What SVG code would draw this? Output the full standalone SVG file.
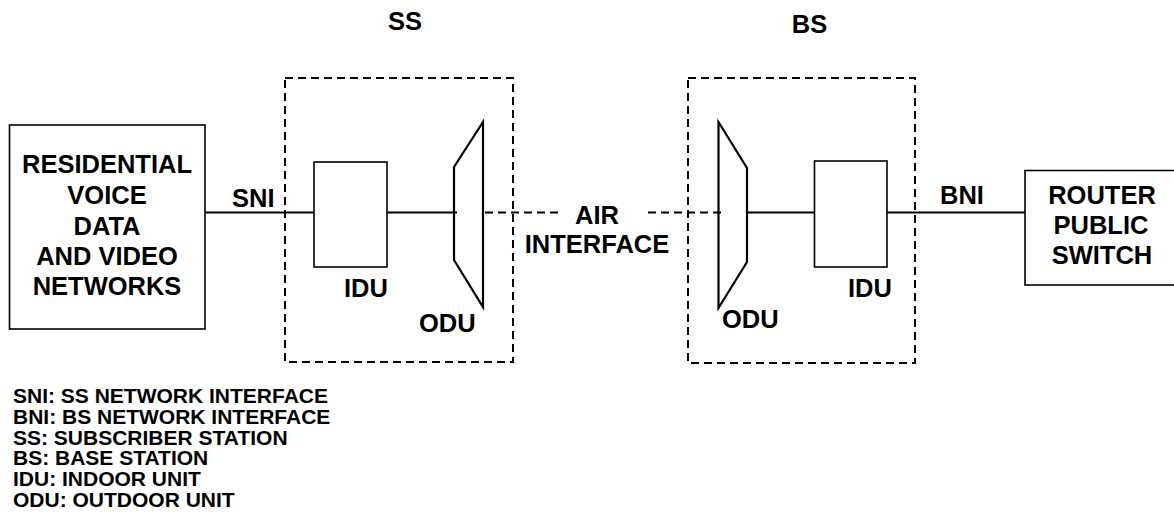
<svg xmlns="http://www.w3.org/2000/svg" width="1174" height="527" viewBox="0 0 1174 527">
<style>
text{font-family:"Liberation Sans",Arial,sans-serif;font-weight:bold;fill:#000}
.t{font-size:25.5px}
.m{text-anchor:middle}
.lg{font-size:21px}
.box{fill:#fff;stroke:#000;stroke-width:1.6}
.grp{fill:none;stroke:#000;stroke-width:2;stroke-dasharray:8 5}
.odu{fill:none;stroke:#000;stroke-width:2.2;stroke-linejoin:miter}
.ln{fill:none;stroke:#000;stroke-width:1.8}
.air{fill:none;stroke:#000;stroke-width:1.8;stroke-dasharray:8 5}
</style>
<rect width="1174" height="527" fill="#fff"/>

<g id="ss-group">
<rect class="grp" x="285" y="78" width="228" height="284"/>
<text class="t m" x="405" y="30">SS</text>
</g>
<g id="bs-group">
<rect class="grp" x="688" y="78" width="227" height="285"/>
<text class="t m" x="809.5" y="33">BS</text>
</g>

<g id="connectors">
<line class="ln" x1="205" y1="212.5" x2="314" y2="212.5"/>
<line class="ln" x1="387" y1="212.5" x2="457" y2="212.5"/>
<line class="air" x1="485" y1="212.5" x2="558" y2="212.5"/>
<line class="air" x1="648" y1="212.5" x2="722" y2="212.5"/>
<line class="ln" x1="747" y1="212.5" x2="820" y2="212.5"/>
<line class="ln" x1="887" y1="212.5" x2="1025" y2="212.5"/>
</g>

<g id="residential">
<rect class="box" x="9.5" y="125" width="195.5" height="204"/>
<text class="t m" x="107" y="173">RESIDENTIAL</text>
<text class="t m" x="107" y="204">VOICE</text>
<text class="t m" x="107" y="235">DATA</text>
<text class="t m" x="107" y="265">AND VIDEO</text>
<text class="t m" x="107" y="295">NETWORKS</text>
</g>

<g id="sni-label"><text class="t" x="232" y="207">SNI</text></g>

<g id="ss-idu">
<rect class="box" x="314" y="162" width="73" height="105"/>
<text class="t" x="344" y="297">IDU</text>
</g>

<g id="ss-odu">
<polygon class="odu" points="454,167 483,122 483,307 454,260"/>
<text class="t" x="419" y="332">ODU</text>
</g>

<g id="air-interface">
<text class="t m" x="597" y="224">AIR</text>
<text class="t m" x="597" y="253">INTERFACE</text>
</g>

<g id="bs-odu">
<polygon class="odu" points="718.5,122 747,168 747,262 718.5,308"/>
<text class="t" x="722" y="328">ODU</text>
</g>

<g id="bs-idu">
<rect class="box" x="814.5" y="161" width="72.5" height="106"/>
<text class="t" x="848" y="297">IDU</text>
</g>

<g id="bni-label"><text class="t" x="940" y="204">BNI</text></g>

<g id="router">
<rect class="box" x="1025" y="170.5" width="170" height="114.5"/>
<text class="t m" x="1102" y="204">ROUTER</text>
<text class="t m" x="1101" y="234">PUBLIC</text>
<text class="t m" x="1102" y="264">SWITCH</text>
</g>

<g id="legend">
<text class="lg" x="13" y="403">SNI: SS NETWORK INTERFACE</text>
<text class="lg" x="13" y="423.8">BNI: BS NETWORK INTERFACE</text>
<text class="lg" x="13" y="444.6">SS: SUBSCRIBER STATION</text>
<text class="lg" x="13" y="465.4">BS: BASE STATION</text>
<text class="lg" x="13" y="486.2">IDU: INDOOR UNIT</text>
<text class="lg" x="13" y="507">ODU: OUTDOOR UNIT</text>
</g>
</svg>
